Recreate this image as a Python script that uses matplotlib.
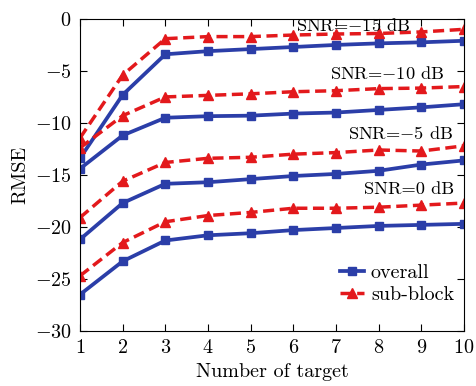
import matplotlib
matplotlib.use("Agg")
import matplotlib.pyplot as plt

plt.rcParams['font.family'] = ['cmr10', 'DejaVu Serif']
plt.rcParams['mathtext.fontset'] = 'cm'
plt.rcParams['axes.formatter.use_mathtext'] = True

targets = [1, 2, 3, 4, 5, 6, 7, 8, 9, 10]

# overall (blue, solid)
overall_m15 = [-13.4, -7.3, -3.4, -3.1, -2.9, -2.7, -2.5, -2.35, -2.25, -2.1]
overall_m10 = [-14.4, -11.2, -9.5, -9.35, -9.3, -9.1, -9.0, -8.75, -8.5, -8.2]
overall_m5 = [-21.2, -17.7, -15.85, -15.7, -15.4, -15.1, -14.9, -14.6, -14.0, -13.6]
overall_0 = [-26.5, -23.3, -21.3, -20.8, -20.6, -20.3, -20.1, -19.9, -19.8, -19.7]

# sub-block (red, dashed)
sub_m15 = [-11.45, -5.4, -1.9, -1.7, -1.7, -1.55, -1.45, -1.4, -1.25, -1.0]
sub_m10 = [-12.4, -9.3, -7.5, -7.35, -7.2, -7.0, -6.9, -6.7, -6.65, -6.5]
sub_m5 = [-19.1, -15.6, -13.8, -13.4, -13.3, -13.0, -12.85, -12.6, -12.7, -12.2]
sub_0 = [-24.7, -21.5, -19.5, -18.9, -18.6, -18.2, -18.2, -18.1, -17.9, -17.7]

snr_labels = [r"SNR=$-$15 dB", r"SNR=$-$10 dB", r"SNR=$-$5 dB", r"SNR=0 dB"]
label_pos = [(7.4, -0.6), (8.2, -5.2), (8.5, -11.0), (8.7, -16.4)]

blue = "#2b3ea8"
red = "#e3191c"

fig = plt.figure(figsize=(4.76, 3.86), dpi=100)
ax = fig.add_axes([0.168, 0.1425, 0.807, 0.8085])

overall = [overall_m15, overall_m10, overall_m5, overall_0]
sub = [sub_m15, sub_m10, sub_m5, sub_0]
for i in range(4):
    ax.plot(targets, overall[i], color=blue, lw=2.7, marker="s", ms=6,
            mfc=blue, mec=blue, label="overall" if i == 0 else None)
    ax.plot(targets, sub[i], color=red, lw=2.5, ls=(0, (3.2, 1.6)), marker="^", ms=7,
            mfc=red, mec=red, label="sub-block" if i == 0 else None)

for txt, (x, y) in zip(snr_labels, label_pos):
    ax.text(x, y, txt, ha="center", va="center", fontsize=13.2)

ax.set_xlim(1, 10)
ax.set_ylim(-30, 0)
ax.set_xticks(targets)
ax.set_yticks([0, -5, -10, -15, -20, -25, -30])
ax.tick_params(direction="in", top=True, right=True, labelsize=14.5, length=5, pad=6)
ax.set_xlabel("Number of target", fontsize=14.5, labelpad=4)
ax.set_ylabel("RMSE", fontsize=14.5, labelpad=4)
ax.legend(loc="lower right", bbox_to_anchor=(0.995, 0.06), frameon=False,
          fontsize=14.5, handlelength=1.2, handletextpad=0.35,
          borderaxespad=0, labelspacing=0.2)

fig.savefig("out.png", dpi=100)
